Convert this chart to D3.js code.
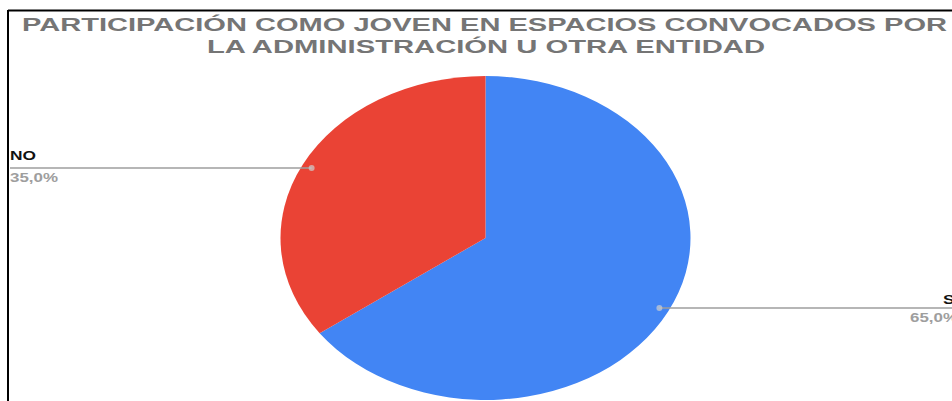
<!DOCTYPE html>
<html>
<head>
<meta charset="utf-8">
<script src="https://cdn.jsdelivr.net/npm/d3@7"></script>
<style>
  html, body { margin: 0; padding: 0; background: #ffffff; }
  svg { display: block; }
</style>
</head>
<body>
<svg id="chart" width="952" height="401"></svg>
<script>
const titleLines = ["PARTICIPACIÓN COMO JOVEN EN ESPACIOS CONVOCADOS POR", "LA ADMINISTRACIÓN U OTRA ENTIDAD"];
const categories = ["SI", "NO"];
const values = [65, 35];
const colors = ["#4285f4", "#ea4335"];

const W = 952, H = 401;
const svg = d3.select("#chart");
svg.append("rect").attr("width", W).attr("height", H).attr("fill", "#ffffff");

// frame
svg.append("line").attr("x1", 8).attr("y1", 10.5).attr("x2", W).attr("y2", 10.5)
  .attr("stroke", "#000").attr("stroke-width", 2);
svg.append("line").attr("x1", 8).attr("y1", 10).attr("x2", 8).attr("y2", H)
  .attr("stroke", "#000").attr("stroke-width", 2);

// title (source image is stretched horizontally)
const titleFit = [[22, 925, 31], [207, 558, 53]];
titleLines.forEach((t, i) => {
  svg.append("text")
    .attr("x", titleFit[i][0]).attr("y", titleFit[i][2])
    .attr("textLength", titleFit[i][1]).attr("lengthAdjust", "spacingAndGlyphs")
    .attr("font-family", "Liberation Sans, Arial, sans-serif")
    .attr("font-weight", "bold").attr("font-size", 18.5)
    .attr("fill", "#757575")
    .text(t);
});

const cx = 485.5, cy = 238, rx = 205, ry = 162;
const data = categories.map((c, i) => ({ name: c, value: values[i], color: colors[i] }));
const total = d3.sum(values);
const pie = d3.pie().sort(null).value(d => d.value);
const arcs = pie(data);
const arc = d3.arc().innerRadius(0).outerRadius(rx);
const dotArc = d3.arc().innerRadius(rx * 0.952).outerRadius(rx * 0.952);

const g = svg.append("g").attr("transform", `translate(${cx},${cy}) scale(1,${ry / rx})`);
g.selectAll("path").data(arcs).enter().append("path")
  .attr("d", arc).attr("fill", d => d.data.color);

const fmt = v => d3.format(".1f")(v).replace(".", ",") + "%";

arcs.forEach(a => {
  const [px, py0] = dotArc.centroid(a);
  const x = cx + px, y = cy + py0 * ry / rx;
  const left = px < 0;
  const lineX = left ? 10 : W;
  svg.append("line").attr("x1", lineX).attr("y1", y).attr("x2", x).attr("y2", y)
    .attr("stroke", "#9e9e9e").attr("stroke-width", 1.5);
  svg.append("circle").attr("cx", x).attr("cy", y).attr("r", 3)
    .attr("fill", "#cfcfcf").attr("fill-opacity", 0.7);
  const nameX = left ? 10 : 943;
  const pctX = left ? 10 : 910;
  const nameW = left ? 26 : 16.5;
  svg.append("text").attr("x", nameX).attr("y", y + (left ? -7.5 : -4.5))
    .attr("textLength", nameW).attr("lengthAdjust", "spacingAndGlyphs")
    .attr("font-family", "Liberation Sans, Arial, sans-serif")
    .attr("font-weight", "bold").attr("font-size", 12).attr("fill", "#111")
    .text(a.data.name);
  svg.append("text").attr("x", pctX).attr("y", y + 14)
    .attr("textLength", 48).attr("lengthAdjust", "spacingAndGlyphs")
    .attr("font-family", "Liberation Sans, Arial, sans-serif")
    .attr("font-weight", "bold").attr("font-size", 12).attr("fill", "#9e9e9e")
    .text(fmt(a.data.value / total * 100));
});
</script>
</body>
</html>
